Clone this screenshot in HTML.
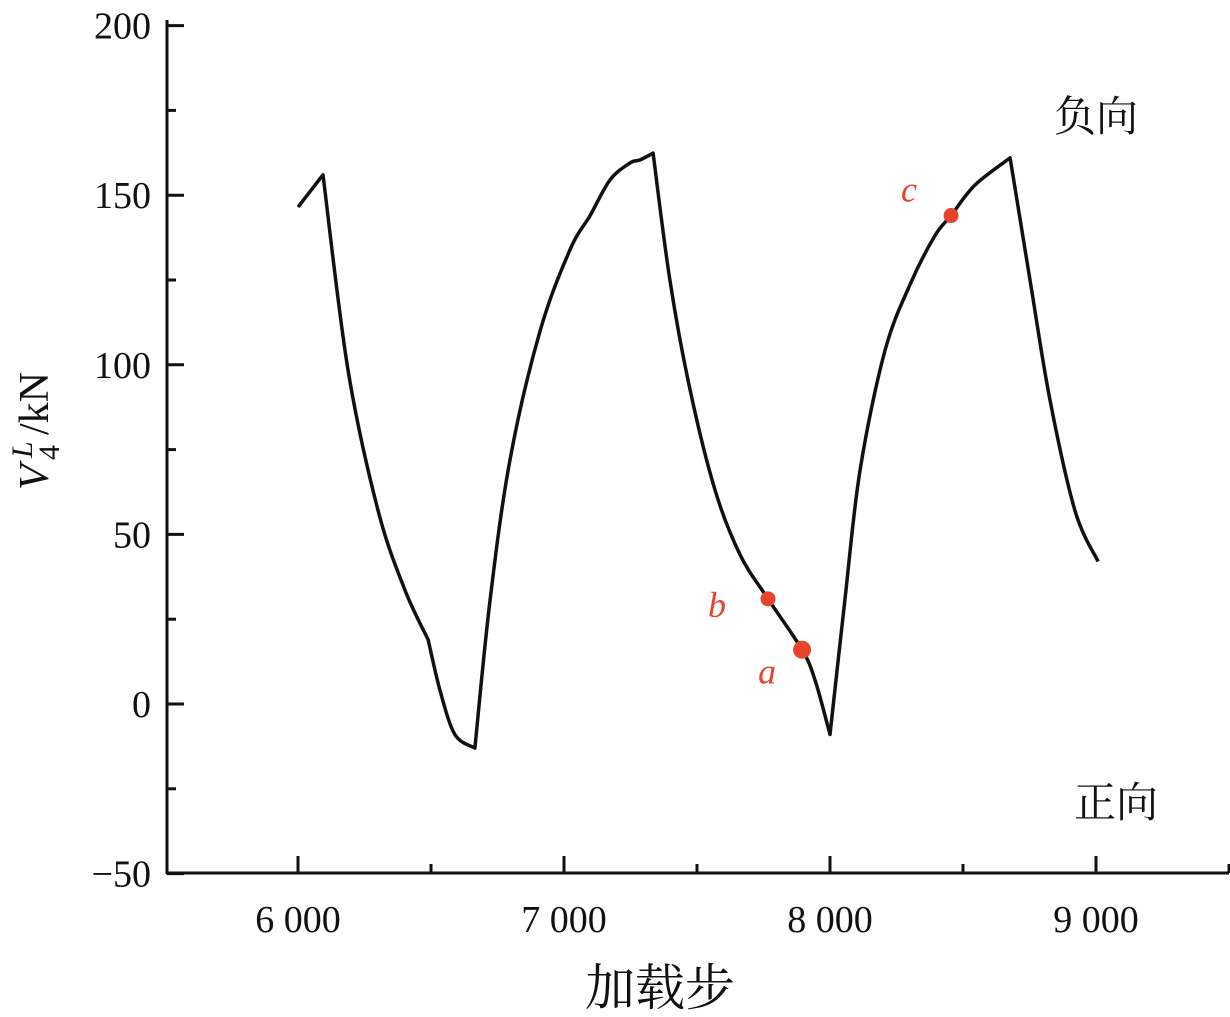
<!DOCTYPE html>
<html><head><meta charset="utf-8"><style>
html,body{margin:0;padding:0;background:#fff;}
svg{display:block;}
text{font-family:"Liberation Serif","Noto Serif CJK SC",serif;fill:#111;}
</style></head><body>
<svg id="chart" width="1230" height="1017" viewBox="0 0 1230 1017"></svg>
<script>
const xTicks=[6000,7000,8000,9000];
const xTickLabels=["6 000","7 000","8 000","9 000"];
const yTicks=[200,150,100,50,0,-50];
const yTickLabels=["200","150","100","50","0","\u221250"];
const steps=[6000,6094,6188,6301,6402,6489,6534,6590,6665,6722,6797,6910,7023,7098,7173,7248,7286,7335,7398,7474,7568,7662,7767,7895,7944,8000,8056,8113,8206,8300,8394,8455,8545,8677,8752,8827,8921,9008];
const forces=[146.5,156,98.5,57,33.6,19,4,-9,-13,30.7,72,110,134,144,154.5,159.5,160.4,162.4,125,92.6,63,44,31,16,7,-9,30.7,69,104,123.5,138,144,153,161,125,89.6,57,42];
const cornerIdx=[1,5,8,17,25,33];
const markLabels=["b","a","c"];
const markSteps=[7767,7895,8455];
const markForces=[31,16,144];

const NS="http://www.w3.org/2000/svg";
const svg=document.getElementById('chart');
const X=v=>298+(v-6000)*0.266;
const Y=v=>704-v*3.392;
function el(tag,attrs,txt,parent){const e=document.createElementNS(NS,tag);for(const k in attrs)e.setAttribute(k,attrs[k]);if(txt!==undefined)e.textContent=txt;(parent||svg).appendChild(e);return e;}

let a=el('line',{x1:167,y1:20,x2:167,y2:874,stroke:'#111','stroke-width':3});


a=el('line',{x1:166,y1:873,x2:1229,y2:873,stroke:'#111','stroke-width':3});



yTicks.forEach((v,i)=>{
  let t=el('line',{x1:167,y1:Y(v),x2:184,y2:Y(v),stroke:'#111','stroke-width':3});
  
  
  if(v>-50){let m=el('line',{x1:167,y1:Y(v-25),x2:176,y2:Y(v-25),stroke:'#111','stroke-width':3});
  
  }
  let l=el('text',{x:151,y:Y(v)+13,'font-size':38,'text-anchor':'end'},yTickLabels[i]);
  
  
});
xTicks.forEach((v,i)=>{
  let t=el('line',{x1:X(v),y1:873,x2:X(v),y2:856,stroke:'#111','stroke-width':3});
  
  
  let m=el('line',{x1:X(v+500),y1:873,x2:X(v+500),y2:864,stroke:'#111','stroke-width':3});
  
  
  let l=el('text',{x:X(v),y:932,'font-size':38,'text-anchor':'middle'},xTickLabels[i]);
  
  
});

const P=steps.map((s,i)=>[X(s),Y(forces[i])]);
let d='M'+P[0][0].toFixed(1)+' '+P[0][1].toFixed(1);
for(let i=0;i<P.length-1;i++){
  const p0=(i===0||cornerIdx.includes(i))?P[i]:P[i-1];
  const p1=P[i],p2=P[i+1];
  const p3=(i+1===P.length-1||cornerIdx.includes(i+1))?P[i+1]:P[i+2];
  const c1=[p1[0]+(p2[0]-p0[0])/6,p1[1]+(p2[1]-p0[1])/6];
  const c2=[p2[0]-(p3[0]-p1[0])/6,p2[1]-(p3[1]-p1[1])/6];
  d+=' C'+c1[0].toFixed(1)+' '+c1[1].toFixed(1)+' '+c2[0].toFixed(1)+' '+c2[1].toFixed(1)+' '+p2[0].toFixed(1)+' '+p2[1].toFixed(1);
}
let p=el('path',{d:d,fill:'none',stroke:'#111','stroke-width':3.5,'stroke-linejoin':'round'});



const off=[[-60,18],[-44,34],[-50,-14]];
markSteps.forEach((s,i)=>{
  let c=el('circle',{cx:X(s),cy:Y(markForces[i]),r:i==1?9:7.5,fill:'#e8432d'});
  
  
  let t=el('text',{x:X(s)+off[i][0],y:Y(markForces[i])+off[i][1],'font-size':36,'font-style':'italic',style:'fill:#e8432d'},markLabels[i]);
  
  
});

let t1=el('text',{x:1054,y:131,'font-size':42},'负向');


let t2=el('text',{x:1074,y:817,'font-size':42},'正向');


let xt=el('text',{x:660,y:1005,'font-size':50,'text-anchor':'middle'},'加载步');


let g=el('g',{transform:'translate(48,490) rotate(-90)'});


el('text',{x:0,y:0,'font-size':42,'font-style':'italic'},'V',g);
el('text',{x:32,y:-16,'font-size':30,'font-style':'italic'},'L',g);
el('text',{x:30,y:11,'font-size':30},'4',g);
el('text',{x:55,y:0,'font-size':42},'/kN',g);
</script>
</body></html>
